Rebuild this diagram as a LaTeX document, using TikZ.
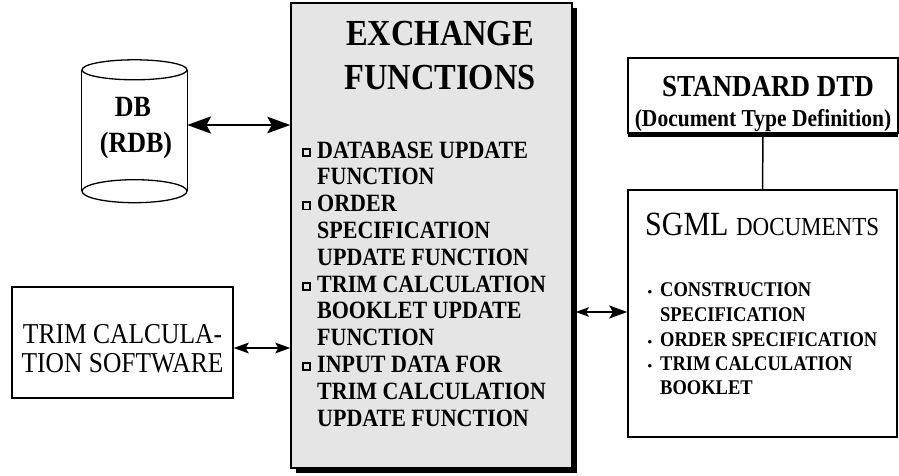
\documentclass[tikz,border=0pt]{standalone}
\usepackage{fontspec}
\setmainfont{Liberation Serif}
\usetikzlibrary{arrows.meta,shadows}
\newcommand\vs[1]{\scalebox{1}[1.13]{#1}}
\newcommand\sqbul{\makebox[0pt][r]{\raisebox{3pt}{\setlength\fboxsep{0pt}\setlength\fboxrule{1.8pt}\fbox{\rule{0pt}{5.4pt}\rule{5.4pt}{0pt}}}\hspace{6pt}}}
\newcommand\dotbul{\makebox[0pt][r]{{\fontsize{13}{13}\selectfont •}\hspace{8pt}}}
\tikzset{
  box/.style={draw, line width=1.5pt, inner sep=0pt, fill=white},
  txt/.style={inner sep=0pt, anchor=base},
  txtl/.style={inner sep=0pt, anchor=base west},
  dblarrow/.style 2 args={line width=1.5pt, {Stealth[length=#1,width=0.72*#1,inset=0.2*#1]}-{Stealth[length=#2,width=0.72*#2,inset=0.2*#2]}},
}
\begin{document}
\begin{tikzpicture}[x=1pt,y=-1pt]
\useasboundingbox (0,0) rectangle (899,476);
\fill[white] (0,0) rectangle (899,476);

% exchange functions box
\node[box, fill=black!10, minimum width=281pt, minimum height=465pt,
      drop shadow={shadow xshift=5pt, shadow yshift=-5pt, fill=black, opacity=1}]
      (ex) at (431.5,235.5) {};
\node[txt] (t1) at (440,46) {\vs{\fontsize{32.5}{36}\selectfont\bfseries EXCHANGE}};
\node[txt] (t2) at (440,90) {\vs{\fontsize{32.5}{36}\selectfont\bfseries FUNCTIONS}};
\foreach \i/\b/\t in {0/1/DATABASE UPDATE, 1/0/FUNCTION, 2/1/ORDER, 3/0/SPECIFICATION,
   4/0/UPDATE FUNCTION, 5/1/TRIM CALCULATION, 6/0/BOOKLET UPDATE, 7/0/FUNCTION,
   8/1/INPUT DATA FOR, 9/0/TRIM CALCULATION, 10/0/UPDATE FUNCTION}{
  \node[txtl] (l\i) at (317,158+26.8*\i) {\fontsize{22}{26}\selectfont\bfseries\ifnum\b=1 \sqbul\fi\vs{\t}};
}

% database cylinder
\node[inner sep=0pt, minimum width=105pt, minimum height=121pt] (db) at (134.5,130.5) {};
\draw[line width=1.3pt] (db.north west) -- (db.south west) (db.north east) -- (db.south east);
\draw[line width=1.3pt] (db.north) ellipse (52.5pt and 10pt);
\draw[line width=1.3pt] (db.south) ellipse (52.5pt and 11.5pt);
\node[txt] (db1) at (133,117) {\vs{\fontsize{26}{30}\selectfont\bfseries DB}};
\node[txt] (db2) at (136,152) {\vs{\fontsize{26}{30}\selectfont\bfseries (RDB)}};

% trim calculation software
\node[box, minimum width=221pt, minimum height=111pt] (trim) at (122.5,342.5) {};
\node[txt] (tr1) at (122.5,343) {\vs{\fontsize{25.5}{29}\selectfont TRIM CALCULA-}};
\node[txt] (tr2) at (122.5,372) {\vs{\fontsize{25.5}{29}\selectfont TION SOFTWARE}};

% standard DTD
\node[box, minimum width=270pt, minimum height=75pt,
      drop shadow={shadow xshift=0pt, shadow yshift=-4pt, fill=black, opacity=1}]
      (dtd) at (763,95.5) {};
\node[txt] (d1) at (768,97) {\vs{\fontsize{27}{30}\selectfont\bfseries STANDARD DTD}};
\node[txt] (d2) at (763,127) {\vs{\fontsize{21.5}{24}\selectfont\bfseries (Document Type Definition)}};

% SGML documents
\node[box, minimum width=269pt, minimum height=247pt] (sgml) at (762.5,313.5) {};
\node[txtl] (s0) at (645,235) {\vs{\fontsize{30}{34}\selectfont SGML {\fontsize{23}{26}\selectfont DOCUMENTS}}};
\node[txtl] (s1) at (660,296) {\fontsize{18.5}{22}\selectfont\bfseries \dotbul\vs{CONSTRUCTION}};
\node[txtl] (s2) at (660,321) {\fontsize{18.5}{22}\selectfont\bfseries \vs{SPECIFICATION}};
\node[txtl] (s3) at (660,346) {\fontsize{18.5}{22}\selectfont\bfseries \dotbul\vs{ORDER SPECIFICATION}};
\node[txtl] (s4) at (660,370) {\fontsize{18.5}{22}\selectfont\bfseries \dotbul\vs{TRIM CALCULATION}};
\node[txtl] (s5) at (660,394) {\fontsize{18.5}{22}\selectfont\bfseries \vs{BOOKLET}};

% connectors
\draw[dblarrow={24pt}{23pt}] ([yshift=5.5pt]db.east) -- ([yshift=5.5pt]db.east -| ex.west);
\draw[dblarrow={15pt}{15pt}] ([yshift=-5.5pt]trim.east) -- ([yshift=-5.5pt]trim.east -| ex.west);
\draw[dblarrow={13pt}{18pt}] ([xshift=3pt,yshift=1.5pt]sgml.west -| ex.east) -- ([yshift=1.5pt]sgml.west);
\draw[line width=1.5pt] (dtd.south) -- (sgml.north);
\end{tikzpicture}
\end{document}
